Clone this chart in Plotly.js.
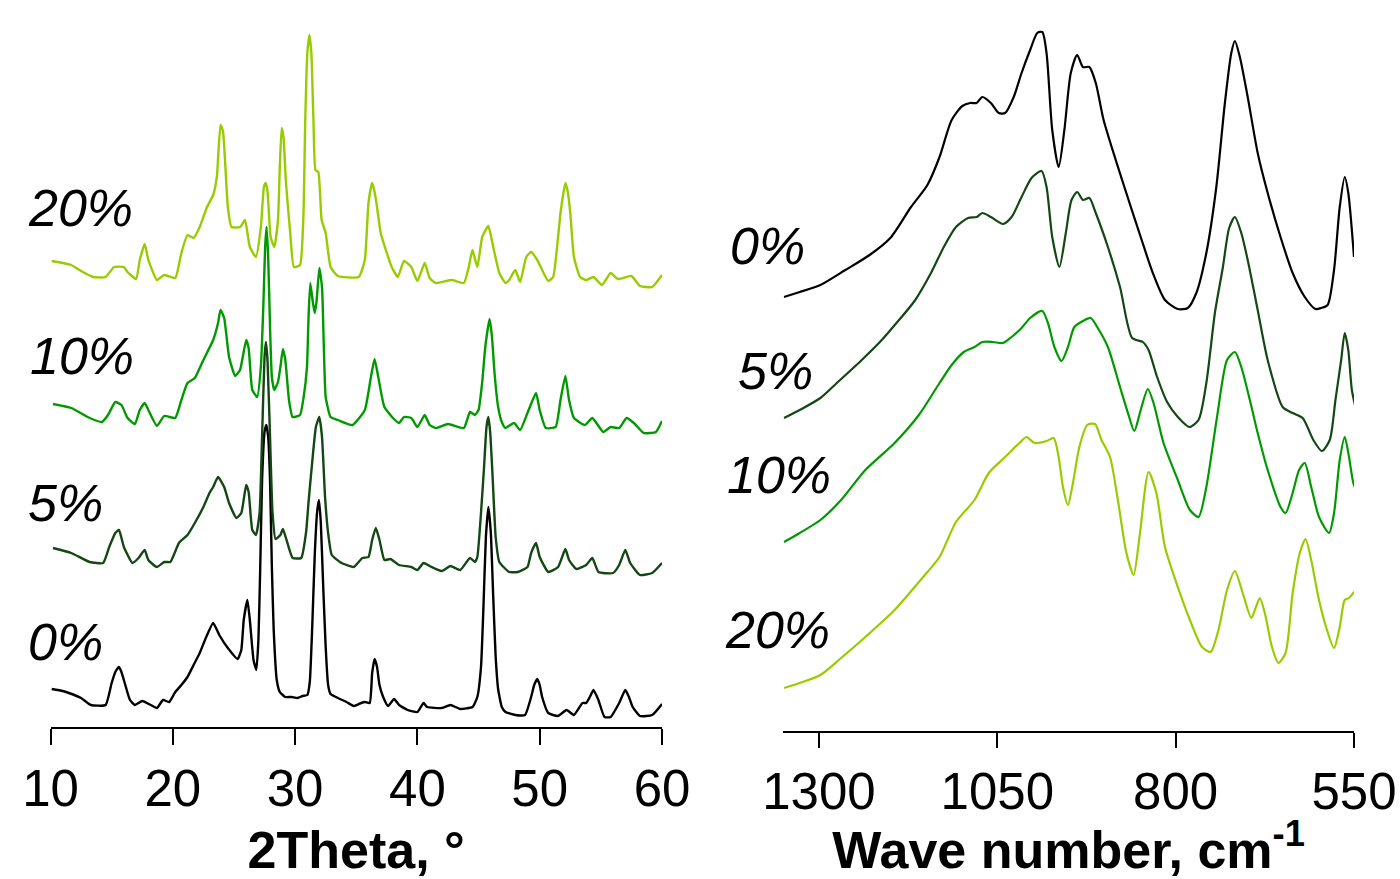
<!DOCTYPE html>
<html>
<head>
<meta charset="utf-8">
<script src="https://cdn.plot.ly/plotly-3.0.1.min.js"></script>
<style>html,body{margin:0;padding:0;background:#fff;}#chart{width:1400px;height:879px;}</style>
</head>
<body>
<div id="chart"></div>
<script>
// ---------- XRD (left panel): 2Theta, degrees / intensity (a.u., stacked) ----------
const xrd0_x = [10.1,11.0,11.5,12.5,13.3,14.5,15.0,15.3,15.6,15.8,16.0,16.5,16.9,17.5,18.2,18.7,19.2,19.7,20.2,20.7,21.2,21.7,22.2,22.7,23.3,23.8,24.5,25.3,25.6,25.8,26.1,26.3,26.6,26.83,27.0,27.15,27.3,27.5,27.65,27.8,27.95,28.1,28.25,28.5,28.75,29.2,29.7,30.2,30.6,31.0,31.2,31.4,31.6,31.8,31.95,32.1,32.3,32.5,32.7,32.9,33.5,34.2,34.8,35.4,35.7,36.1,36.3,36.5,36.7,36.9,37.2,37.6,38.1,38.5,39.2,40.0,40.5,40.8,42.0,42.7,43.5,44.5,44.9,45.2,45.4,45.6,45.8,46.0,46.2,46.4,46.6,46.9,47.2,48.0,48.8,49.3,49.55,49.8,50.0,50.2,50.7,51.5,52.2,52.8,53.5,53.8,54.1,54.4,54.8,55.3,55.8,56.5,57.0,57.3,57.6,58.2,59.2,60.0];
const xrd0_y = [38,36,34,29,22,22,44,55,60,55,47,27,22,26,22,19,27,25,35,42,50,62,74,89,104,92,79,68,77,107,127,107,67,57,87,160,247,295,302,290,247,160,97,47,35,30,30,29,31,32,45,100,170,215,227,205,140,80,42,33,29,25,21,24,25,24,54,68,60,42,30,21,28,22,17,15,24,20,19,22,18,20,30,60,120,190,220,195,130,70,38,20,15,12,12,30,42,48,42,30,14,11,17,12,24,24,30,37,27,10,10,24,37,30,20,11,12,23];

const xrd5_x = [10.2,11.7,13.2,14.3,14.8,15.3,15.6,16.0,16.7,17.2,17.7,18.0,18.7,19.3,19.8,20.5,21.2,21.8,22.5,23.0,23.3,23.7,24.2,24.6,25.2,25.6,26.0,26.2,26.5,26.8,27.1,27.3,27.5,27.62,27.75,27.95,28.15,28.4,28.8,29.0,29.3,29.8,30.5,30.9,31.1,31.4,31.7,31.98,32.2,32.45,32.7,33.0,33.8,34.8,35.5,36.0,36.3,36.6,36.9,37.3,37.8,38.5,39.5,40.0,40.5,41.0,42.0,42.7,43.5,44.3,44.7,44.9,45.2,45.45,45.65,45.8,45.95,46.15,46.4,46.7,47.5,48.2,49.0,49.3,49.7,50.0,50.7,51.5,52.1,52.4,53.0,53.8,54.3,54.8,56.0,56.5,57.0,57.4,58.2,59.2,60.0];
const xrd5_y = [179,174,165,164,180,194,197,180,164,169,177,167,160,165,165,184,192,204,220,234,240,250,240,224,209,214,242,235,197,192,215,290,370,385,365,290,215,188,192,198,187,169,169,195,225,265,300,310,290,230,194,172,164,160,169,170,187,199,187,167,168,162,160,157,164,161,156,161,157,169,165,170,214,260,300,310,295,250,190,165,155,155,160,174,184,170,155,160,178,167,158,162,169,155,154,162,177,164,152,154,164];

const xrd10_x = [10.2,11.7,13.2,14.2,14.7,15.3,15.8,16.3,16.9,17.3,17.7,18.0,18.7,19.3,20.2,20.7,21.2,21.8,22.5,23.3,23.7,23.9,24.2,24.6,25.1,25.5,26.0,26.2,26.5,26.9,27.2,27.4,27.55,27.67,27.8,27.95,28.1,28.3,28.6,28.8,29.0,29.2,29.5,29.8,30.4,30.7,30.97,31.1,31.24,31.45,31.6,31.75,31.98,32.2,32.35,32.5,32.9,33.5,34.7,35.7,36.2,36.5,36.8,37.3,38.0,38.5,38.9,39.5,40.0,40.6,41.0,41.5,42.5,43.8,44.3,44.7,45.0,45.3,45.55,45.9,46.1,46.3,46.6,46.9,47.2,47.9,48.4,49.0,49.7,50.0,50.5,51.3,51.7,52.1,52.4,52.8,53.7,54.3,55.2,55.8,56.5,57.1,57.7,58.5,59.5,60.0];
const xrd10_y = [323,319,309,305,312,325,322,309,303,317,324,317,301,311,309,327,344,349,367,387,404,417,409,370,351,357,387,379,337,330,360,420,480,500,470,400,350,337,345,360,378,367,327,310,312,330,360,410,444,425,414,425,459,440,380,330,310,307,302,317,350,368,350,320,309,304,310,309,300,312,302,299,303,299,315,312,317,345,380,408,390,355,320,305,299,304,297,314,334,317,299,300,327,351,327,309,302,309,295,300,299,309,304,294,295,306];

const xrd20_x = [10.1,11.0,11.7,12.5,13.5,14.5,15.2,16.0,16.3,17.0,17.3,17.7,18.0,18.7,19.3,20.2,20.7,21.2,21.7,22.2,22.8,23.3,23.6,23.9,24.1,24.3,24.5,24.8,25.5,25.9,26.3,26.8,27.2,27.45,27.6,27.75,28.0,28.3,28.6,28.75,28.9,29.05,29.25,29.6,29.9,30.4,30.67,30.83,31.0,31.17,31.33,31.5,31.67,31.9,32.17,32.5,32.9,33.5,35.2,35.7,36.0,36.3,36.5,36.7,37.0,37.5,37.9,38.4,38.9,39.5,40.0,40.6,41.0,41.5,42.8,43.8,44.2,44.5,44.9,45.3,45.8,46.2,46.7,47.2,47.5,48.0,48.4,48.9,49.3,49.8,50.7,51.1,51.5,51.7,52.1,52.3,52.5,52.8,53.3,53.8,54.4,55.1,55.8,56.4,57.5,58.2,59.2,60.0];
const xrd20_y = [466,464,462,456,450,450,460,460,455,448,467,483,467,447,452,449,474,492,489,500,520,532,550,602,596,560,520,500,500,507,480,470,500,540,544,535,490,480,507,560,599,590,545,494,460,462,507,607,674,692,674,607,557,555,507,494,460,451,450,467,524,544,535,520,494,474,460,450,466,460,446,464,449,444,447,444,460,477,460,490,501,480,454,444,447,457,445,470,475,467,446,450,490,514,544,535,514,470,450,447,450,442,454,448,451,441,440,452];

// ---------- FTIR (right panel): wave number, cm-1 / transmittance (a.u., stacked) ----------
const ir0_x = [1349,1327,1298,1263,1229,1200,1171,1148,1131,1114,1099,1088,1079,1071,1059,1048,1039,1027,1016,1004,994,987,981,973,964,956,947,938,930,921,912,901,884,866,849,832,815,797,783,771,757,743,731,722,717,710,699,685,671,653,636,619,604,596,587,578,570,563,558,550];
const ir0_y = [441,446,453,468,483,500,531,553,581,618,632,635,635,641,635,625,625,641,665,688,705,706,685,608,571,608,665,683,671,671,655,618,578,538,501,465,438,429,430,445,485,551,635,685,697,681,641,585,545,501,465,441,429,430,433,468,531,561,545,481];

const ir5_x = [1349,1327,1298,1275,1240,1212,1189,1166,1143,1125,1108,1091,1079,1071,1059,1042,1030,1016,1002,988,981,973,963,954,946,938,930,921,912,895,878,861,846,838,826,812,797,781,768,757,745,734,725,717,708,699,685,671,650,636,622,607,595,584,576,568,563,558,553,547];
const ir5_y = [320,328,340,355,378,398,417,437,465,491,511,520,521,525,521,514,521,541,560,567,551,501,471,505,538,546,538,540,525,491,451,400,396,388,361,336,321,311,318,355,425,470,510,521,505,478,428,378,331,325,320,298,287,298,338,378,405,388,348,328];

const ir10_x = [1349,1327,1298,1269,1235,1194,1160,1131,1114,1097,1082,1071,1056,1042,1030,1016,1004,987,979,970,960,951,942,930,919,910,895,878,866,858,849,839,831,817,797,780,768,757,742,728,717,708,696,685,671,653,646,636,627,619,610,599,585,578,570,563,557,551,547];
const ir10_y = [196,205,218,238,268,295,323,355,373,386,391,396,396,395,401,410,420,427,415,391,377,391,411,417,420,411,391,351,323,307,328,349,335,295,258,228,221,251,321,378,386,371,338,305,268,231,225,245,268,275,251,221,205,225,278,301,281,255,248];

const ir20_x = [1349,1327,1298,1269,1235,1194,1154,1131,1108,1082,1062,1039,1019,1009,998,981,971,964,958,951,944,935,924,913,904,892,881,869,859,850,838,827,815,797,780,763,751,740,728,717,706,694,688,682,675,665,656,646,636,626,618,610,600,590,578,570,563,557,551,547];
const ir20_y = [50,55,63,80,101,128,161,181,216,238,265,281,295,301,295,297,300,281,251,233,255,291,313,314,298,281,238,185,163,205,266,245,191,151,118,91,86,108,148,167,145,120,130,140,125,91,75,85,145,185,199,178,141,113,90,111,138,140,145,148];

const seriesNames = ['0%','5%','10%','20%'];
const seriesColors = ['#000000','#134713','#009a00','#99cc00'];
const xrdTicks = [10,20,30,40,50,60];
const irTicks = [1300,1050,800,550];

const FONT = 'Liberation Sans, Arial, Helvetica, sans-serif';

const xrdX = [xrd0_x, xrd5_x, xrd10_x, xrd20_x];
const xrdY = [xrd0_y, xrd5_y, xrd10_y, xrd20_y];
const irX = [ir0_x, ir5_x, ir10_x, ir20_x];
const irY = [ir0_y, ir5_y, ir10_y, ir20_y];

const traces = [];
for (let i = 0; i < 4; i++) {
  traces.push({
    x: xrdX[i], y: xrdY[i], type: 'scatter', mode: 'lines', name: 'XRD ' + seriesNames[i],
    xaxis: 'x', yaxis: 'y', line: {color: seriesColors[i], width: 2.4, shape: 'spline', smoothing: 0.45},
    hoverinfo: 'x+y+name'
  });
}
for (let i = 0; i < 4; i++) {
  traces.push({
    x: irX[i], y: irY[i], type: 'scatter', mode: 'lines', name: 'FTIR ' + seriesNames[i],
    xaxis: 'x2', yaxis: 'y2', line: {color: seriesColors[i], width: 2.2, shape: 'spline', smoothing: 0.7},
    hoverinfo: 'x+y+name'
  });
}

const W = 1400, H = 879;
function lab(text, leftPx, centerYPx) {
  return {text: text, xref: 'paper', yref: 'paper', x: leftPx / W, y: 1 - centerYPx / H,
    xanchor: 'left', yanchor: 'middle', showarrow: false,
    font: {family: FONT, size: 52, color: '#000', style: 'italic'}};
}

const axisCommon = {
  showline: true, linecolor: '#000', linewidth: 2.2, mirror: false,
  ticks: 'outside', ticklen: 16, tickwidth: 2.2, tickcolor: '#000',
  showgrid: false, zeroline: false, fixedrange: true,
  tickfont: {family: FONT, size: 51, color: '#000'}, ticklabelstandoff: 0
};

const layout = {
  width: W, height: H,
  margin: {l: 0, r: 0, t: 0, b: 0},
  paper_bgcolor: '#ffffff', plot_bgcolor: '#ffffff',
  showlegend: false,
  xaxis: Object.assign({}, axisCommon, {
    domain: [50.5 / W, 662 / W], range: [10, 60], tickmode: 'array', tickvals: xrdTicks,
    anchor: 'y',
    title: {text: '<b>2Theta, °</b>', font: {family: FONT, size: 52, color: '#000'}, standoff: 26}
  }),
  yaxis: {domain: [1 - 727 / H, 1], range: [0, 727], visible: false, fixedrange: true, anchor: 'x'},
  xaxis2: Object.assign({}, axisCommon, {
    domain: [783.3 / W, 1354 / W], range: [1350, 550], tickmode: 'array', tickvals: irTicks,
    anchor: 'y2', ticklen: 15,
    title: {text: '<b>Wave number, cm<sup>-1</sup></b>', font: {family: FONT, size: 52, color: '#000'}, standoff: 30}
  }),
  yaxis2: {domain: [1 - 731 / H, 1], range: [7, 738], visible: false, fixedrange: true, anchor: 'x2'},
  annotations: [
    lab('20%', 26, 208), lab('10%', 28, 356), lab('5%', 26, 503), lab('0%', 26, 642),
    lab('0%', 728, 246), lab('5%', 736, 371), lab('10%', 725, 475), lab('20%', 723, 630)
  ]
};

Plotly.newPlot('chart', traces, layout, {displayModeBar: false});
</script>
</body>
</html>
